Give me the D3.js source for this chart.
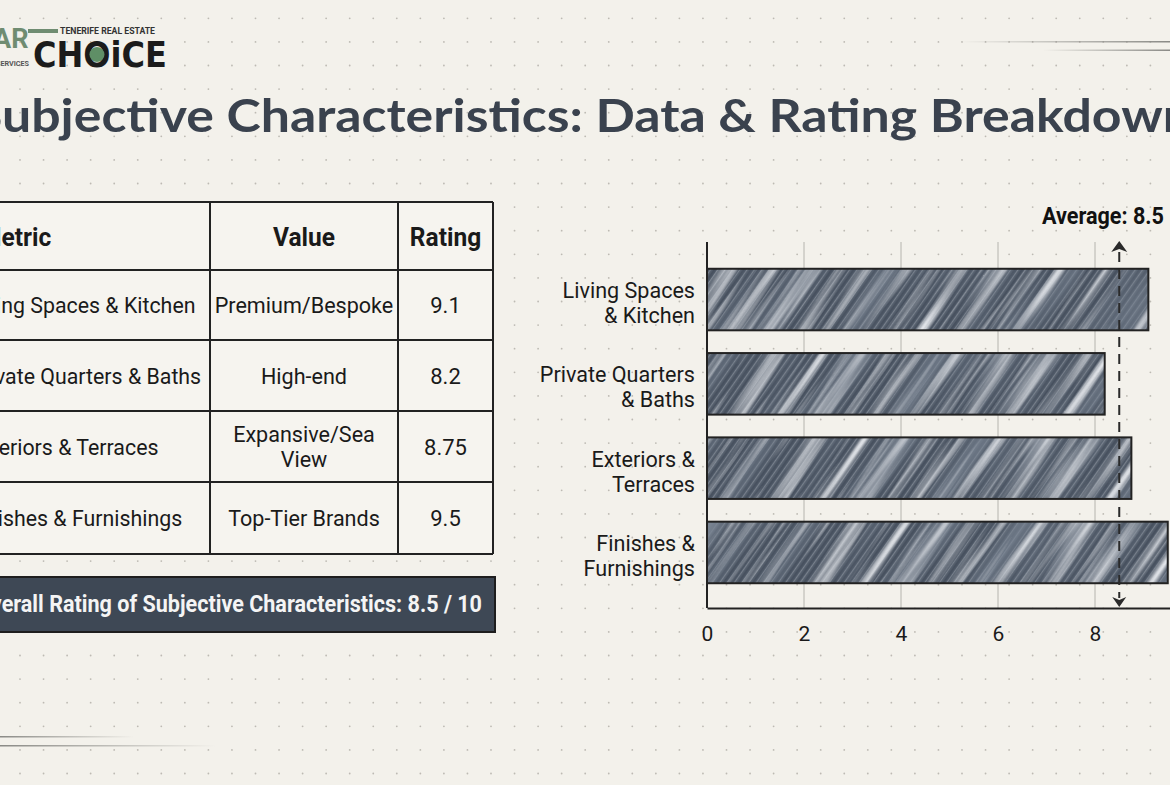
<!DOCTYPE html>
<html>
<head>
<meta charset="utf-8">
<script src="https://cdn.jsdelivr.net/npm/d3@7"></script>
<style>
  body { margin: 0; background: #f3f1eb; }
  svg { display: block; }
</style>
</head>
<body>
<div id="chart"></div>
<script>
// ---- data ----
const metrics = ["Living Spaces & Kitchen", "Private Quarters & Baths", "Exteriors & Terraces", "Finishes & Furnishings"];
const valueLines = [["Premium/Bespoke"], ["High-end"], ["Expansive/Sea", "View"], ["Top-Tier Brands"]];
const ratings = [9.1, 8.2, 8.75, 9.5];
const barLabels = [["Living Spaces", "& Kitchen"], ["Private Quarters", "& Baths"], ["Exteriors &", "Terraces"], ["Finishes &", "Furnishings"]];
const headers = ["Metric", "Value", "Rating"];
const average = 8.5;
const xTicks = [0, 2, 4, 6, 8, 10];

const W = 1170, H = 785;
const ink = "#222";

const svg = d3.select("#chart")
  .append("svg")
    .attr("width", W)
    .attr("height", H)
    .attr("viewBox", `0 0 ${W} ${H}`);

// squeeze regular Roboto a little so it looks like the condensed face in the picture
const condense = (sel, k) => sel.each(function() {
  const w = this.getComputedTextLength();
  d3.select(this).attr("textLength", w * k).attr("lengthAdjust", "spacingAndGlyphs");
});

const defs = svg.append("defs");

// fine pencil hatching
const pencil = defs.append("pattern")
  .attr("id", "pencil")
  .attr("patternUnits", "userSpaceOnUse")
  .attr("width", 6).attr("height", 6)
  .attr("patternTransform", "rotate(35)");
pencil.append("rect").attr("width", 6).attr("height", 6).attr("fill", "#505a68");
pencil.append("rect").attr("x", 0).attr("width", 1.2).attr("height", 6).attr("fill", "#b4bac3").attr("opacity", 0.4);
pencil.append("rect").attr("x", 3.2).attr("width", 1.4).attr("height", 6).attr("fill", "#37404e").attr("opacity", 0.5);

// streaky noise for the pencil shading (long along y, then tilted)
const grain = defs.append("filter")
  .attr("id", "grain")
  .attr("x", 0).attr("y", 0).attr("width", 1).attr("height", 1);
grain.append("feTurbulence")
  .attr("type", "fractalNoise")
  .attr("baseFrequency", "0.09 0.004")
  .attr("numOctaves", 3)
  .attr("seed", 11)
  .attr("result", "n");
grain.append("feColorMatrix")
  .attr("in", "n")
  .attr("type", "matrix")
  .attr("values", "0 0 0 0 0.84  0 0 0 0 0.86  0 0 0 0 0.89  2.2 0 0 0 -1.02");

const dark = defs.append("filter")
  .attr("id", "dark")
  .attr("x", 0).attr("y", 0).attr("width", 1).attr("height", 1);
dark.append("feTurbulence")
  .attr("type", "fractalNoise")
  .attr("baseFrequency", "0.03 0.003")
  .attr("numOctaves", 2)
  .attr("seed", 4)
  .attr("result", "n");
dark.append("feColorMatrix")
  .attr("in", "n")
  .attr("type", "matrix")
  .attr("values", "0 0 0 0 0.2  0 0 0 0 0.24  0 0 0 0 0.3  2.2 0 0 0 -0.95");

const fadeIn = defs.append("linearGradient").attr("id", "fadeIn");
fadeIn.append("stop").attr("offset", "0%").attr("stop-color", "#8a8a86").attr("stop-opacity", 0);
fadeIn.append("stop").attr("offset", "100%").attr("stop-color", "#8a8a86").attr("stop-opacity", 1);
const fadeOut = defs.append("linearGradient").attr("id", "fadeOut");
fadeOut.append("stop").attr("offset", "0%").attr("stop-color", "#8a8a86").attr("stop-opacity", 1);
fadeOut.append("stop").attr("offset", "100%").attr("stop-color", "#8a8a86").attr("stop-opacity", 0);

// ---- dotted paper ----
const dots = [];
for (let gx = 20; gx < W; gx += 23.55) {
  for (let gy = 18.3; gy < H; gy += 23.6) dots.push([gx, gy]);
}
svg.append("g")
  .selectAll("circle")
  .data(dots)
  .join("circle")
    .attr("cx", d => d[0])
    .attr("cy", d => d[1])
    .attr("r", 0.9)
    .attr("fill", "#bdbab3");

// decorative rules
svg.append("rect").attr("x", 960).attr("y", 41).attr("width", 210).attr("height", 1.5).attr("fill", "url(#fadeIn)");
svg.append("rect").attr("x", 1043).attr("y", 49.5).attr("width", 127).attr("height", 1.5).attr("fill", "url(#fadeIn)");
svg.append("rect").attr("x", 0).attr("y", 736).attr("width", 134).attr("height", 1.5).attr("fill", "url(#fadeOut)");
svg.append("rect").attr("x", 0).attr("y", 745).attr("width", 216).attr("height", 1.5).attr("fill", "url(#fadeOut)");

// ---- logo ----
const logo = svg.append("g");
logo.append("text")
  .text("AR")
  .attr("x", -7).attr("y", 48)
  .style("font-family", "Roboto").style("font-weight", 700).style("font-size", "27px")
  .attr("fill", "#6f8c71");
logo.append("rect").attr("x", 28).attr("y", 29).attr("width", 30).attr("height", 4).attr("fill", "#6f8c71");
logo.append("text")
  .text("TENERIFE REAL ESTATE")
  .attr("x", 60).attr("y", 34)
  .style("font-family", "Roboto").style("font-weight", 700).style("font-size", "9px")
  .attr("fill", "#333")
  .attr("textLength", 95).attr("lengthAdjust", "spacingAndGlyphs");
logo.append("text")
  .text("SERVICES")
  .attr("x", -4).attr("y", 66)
  .style("font-family", "Roboto").style("font-weight", 700).style("font-size", "7.5px")
  .attr("fill", "#555")
  .attr("textLength", 33).attr("lengthAdjust", "spacingAndGlyphs");
const choice = logo.append("text")
  .text("CHOiCE")
  .attr("x", 33).attr("y", 67)
  .style("font-family", "DejaVu Sans").style("font-weight", 700).style("font-size", "35px")
  .attr("fill", "#1b1b1b")
  .attr("textLength", 134).attr("lengthAdjust", "spacingAndGlyphs");
{
  const n = choice.node();
  const a = n.getStartPositionOfChar(2).x, b = n.getEndPositionOfChar(2).x;
  logo.append("circle").attr("cx", (a + b) / 2).attr("cy", 54.5).attr("r", 7.5).attr("fill", "#5f8f66");
}

// ---- title ----
svg.append("text")
  .text("Subjective Characteristics: Data & Rating Breakdown")
  .attr("x", -26).attr("y", 132)
  .style("font-family", "Lato").style("font-weight", 700).style("font-size", "46px")
  .attr("fill", "#3a424e")
  .attr("textLength", 1218).attr("lengthAdjust", "spacingAndGlyphs");

// ---- table ----
const colX = [-40, 210, 398, 493];
const rowY = [202, 270, 340, 411, 482, 554];
const table = svg.append("g");

table.append("rect")
  .attr("x", colX[0]).attr("y", rowY[0])
  .attr("width", colX[3] - colX[0]).attr("height", rowY[5] - rowY[0])
  .attr("fill", "#f6f4ef");

table.selectAll("line.h")
  .data(rowY)
  .join("line")
    .attr("class", "h")
    .attr("x1", colX[0]).attr("x2", colX[3])
    .attr("y1", d => d).attr("y2", d => d)
    .attr("stroke", ink).attr("stroke-width", 2);

table.selectAll("line.v")
  .data(colX.slice(1))
  .join("line")
    .attr("class", "v")
    .attr("x1", d => d).attr("x2", d => d)
    .attr("y1", rowY[0]).attr("y2", rowY[5])
    .attr("stroke", ink).attr("stroke-width", 2);

const headX = [-20, (colX[1] + colX[2]) / 2, (colX[2] + colX[3]) / 2];
table.selectAll("text.head")
  .data(headers)
  .join("text")
    .attr("class", "head")
    .text(d => d)
    .attr("x", (d, i) => headX[i])
    .attr("y", 246)
    .attr("text-anchor", (d, i) => i === 0 ? "start" : "middle")
    .style("font-family", "Roboto").style("font-weight", 700).style("font-size", "25px")
    .attr("fill", "#1a1a1a")
    .call(condense, 0.98);

const rowMid = i => (rowY[i + 1] + rowY[i + 2]) / 2;

metrics.forEach((m, i) => {
  const c = rowMid(i);
  table.append("text")
    .text(m)
    .attr("x", -31).attr("y", c + 8)
    .style("font-family", "Roboto").style("font-size", "22px")
    .attr("fill", "#1a1a1a")
    .call(condense, 0.97);

  const lines = valueLines[i];
  lines.forEach((t, j) => {
    table.append("text")
      .text(t)
      .attr("x", headX[1])
      .attr("y", lines.length === 1 ? c + 8 : c - 5 + j * 25)
      .attr("text-anchor", "middle")
      .style("font-family", "Roboto").style("font-size", "22px")
      .attr("fill", "#1a1a1a")
      .call(condense, 0.98);
  });

  table.append("text")
    .text(ratings[i])
    .attr("x", headX[2]).attr("y", c + 8)
    .attr("text-anchor", "middle")
    .style("font-family", "Roboto").style("font-size", "22px")
    .attr("fill", "#1a1a1a");
});

// overall rating banner
svg.append("rect")
  .attr("x", -10).attr("y", 577)
  .attr("width", 505).attr("height", 55)
  .attr("fill", "#3e4855")
  .attr("stroke", "#1e1e1e").attr("stroke-width", 2);
svg.append("text")
  .text(`Overall Rating of Subjective Characteristics: ${average} / 10`)
  .attr("x", -24).attr("y", 612)
  .style("font-family", "Roboto").style("font-weight", 700).style("font-size", "24px")
  .attr("fill", "#f4f4f4")
  .attr("textLength", 506).attr("lengthAdjust", "spacingAndGlyphs");

// ---- bar chart ----
const xScale = d3.scaleLinear()
  .domain([0, 10])
  .range([707, 1192]);

const yScale = d3.scaleBand()
  .domain(metrics)
  .range([246, 606])
  .paddingInner(0.27)
  .paddingOuter(0.27);

const plotTop = 242, plotBottom = 608;

svg.append("g")
  .selectAll("line")
  .data(xTicks.slice(1))
  .join("line")
    .attr("x1", d => xScale(d)).attr("x2", d => xScale(d))
    .attr("y1", plotTop).attr("y2", plotBottom)
    .attr("stroke", "#b5b4ae").attr("stroke-width", 1);

const barW = i => xScale(ratings[i]) - xScale(0);

metrics.forEach((m, i) => {
  defs.append("clipPath")
    .attr("id", `clip-${i}`)
    .append("rect")
      .attr("x", xScale(0))
      .attr("width", barW(i))
      .attr("height", yScale.bandwidth());
});

const bars = svg.append("g")
  .selectAll("g")
  .data(metrics)
  .join("g")
  .attr("transform", d => `translate(0, ${yScale(d)})`);

const shade = bars.append("g")
  .attr("clip-path", (d, i) => `url(#clip-${i})`);

shade.append("rect")
  .attr("x", xScale(0))
  .attr("width", (d, i) => barW(i))
  .attr("height", yScale.bandwidth())
  .attr("fill", "url(#pencil)");

// big tilted noise squares, clipped to the bar
["dark", "grain"].forEach(f => {
  shade.append("rect")
    .attr("x", (d, i) => xScale(0) + barW(i) / 2 - 320)
    .attr("y", yScale.bandwidth() / 2 - 320)
    .attr("width", 640)
    .attr("height", 640)
    .attr("transform", (d, i) => `rotate(35, ${xScale(0) + barW(i) / 2}, ${yScale.bandwidth() / 2}) translate(${i * 37}, 0)`)
    .attr("filter", `url(#${f})`);
});

bars.append("rect")
  .attr("x", xScale(0))
  .attr("width", (d, i) => barW(i))
  .attr("height", yScale.bandwidth())
  .attr("fill", "none")
  .attr("stroke", ink)
  .attr("stroke-width", 2);

bars.each(function(d, i) {
  const g = d3.select(this);
  barLabels[i].forEach((t, j) => {
    g.append("text")
      .text(t)
      .attr("x", 695)
      .attr("y", yScale.bandwidth() / 2 - 1.5 + j * 25)
      .attr("text-anchor", "end")
      .style("font-family", "Roboto").style("font-size", "22px")
      .attr("fill", "#1a1a1a")
      .call(condense, 0.98);
  });
});

// axes
svg.append("line")
  .attr("x1", xScale(0)).attr("x2", xScale(0))
  .attr("y1", plotTop).attr("y2", plotBottom)
  .attr("stroke", ink).attr("stroke-width", 2);

const xAxis = svg.append("g")
  .attr("transform", `translate(0, ${plotBottom})`)
  .call(d3.axisBottom(xScale).tickValues(xTicks).tickSize(0).tickPadding(18));
xAxis.select(".domain").attr("stroke", ink).attr("stroke-width", 2);
xAxis.selectAll("text")
  .style("font-family", "Roboto").style("font-size", "21px")
  .attr("fill", "#1a1a1a");

// average marker
const xa = xScale(average);
svg.append("line")
  .attr("x1", xa).attr("x2", xa)
  .attr("y1", 252).attr("y2", 598)
  .attr("stroke", "#2a2a2a").attr("stroke-width", 2)
  .attr("stroke-dasharray", "10 7");
svg.append("path")
  .attr("d", `M${xa},241 L${xa + 8},252 L${xa},249 L${xa - 8},252 Z`)
  .attr("fill", "#2a2a2a");
svg.append("path")
  .attr("d", `M${xa},607 L${xa + 7},597 L${xa},600 L${xa - 7},597 Z`)
  .attr("fill", "#2a2a2a");
svg.append("text")
  .text(`Average: ${average}`)
  .attr("x", 1164).attr("y", 224)
  .attr("text-anchor", "end")
  .style("font-family", "Roboto").style("font-weight", 700).style("font-size", "23px")
  .attr("fill", "#111")
  .attr("textLength", 122).attr("lengthAdjust", "spacingAndGlyphs");
</script>
</body>
</html>
